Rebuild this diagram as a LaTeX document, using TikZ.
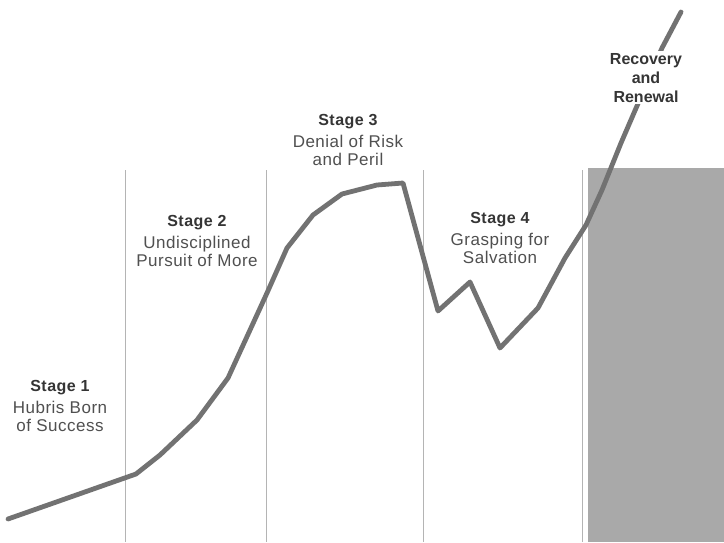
\documentclass[tikz,border=0pt]{standalone}
\usepackage{fontspec}
\setmainfont{Liberation Sans}
\newfontfamily\bodyfont[LetterSpace=3]{Liberation Sans}
\definecolor{curvegray}{HTML}{727272}
\definecolor{rulegray}{HTML}{B4B4B4}
\definecolor{boxgray}{HTML}{A9A9A9}
\definecolor{textgray}{HTML}{505050}
\definecolor{headgray}{HTML}{353535}
\newcommand{\stagehead}[1]{{\fontsize{16}{17}\selectfont\bfseries\color{headgray}#1}}
\begin{document}
\begin{tikzpicture}[x=1pt,y=-1pt,
  divider/.style={draw=rulegray,line width=0.9pt},
  trend/.style={draw=curvegray,line width=4.8pt,line join=round,line cap=round},
  stagelabel/.style={anchor=north,inner sep=0pt,align=center,text=textgray,
    font=\bodyfont\fontsize{17}{17.5}\selectfont}]
\useasboundingbox (0,0) rectangle (724,542);
\fill[white] (0,0) rectangle (724,542);
% gray box
\fill[boxgray] (588,168) rectangle (724,542);
% dividers
\foreach \xx/\nm in {125/d1,266/d2,423/d3,582/d4}{
  \coordinate (\nm t) at (\xx,170);
  \coordinate (\nm b) at (\xx,542);
  \draw[divider] (\nm t) -- (\nm b);
}
% trend line
\coordinate (p0) at (8,519);
\coordinate (p1) at (136,474);
\coordinate (p2) at (160,455);
\coordinate (p3) at (197,420);
\coordinate (p4) at (228,378);
\coordinate (p5) at (267,293);
\coordinate (p6) at (287,248);
\coordinate (p7) at (313,215);
\coordinate (p8) at (342,194);
\coordinate (p9) at (377,185);
\coordinate (p10) at (403,183);
\coordinate (p11) at (438,311);
\coordinate (p12) at (470,282);
\coordinate (p13) at (500,348);
\coordinate (p14) at (538,308);
\coordinate (p15) at (565,258);
\coordinate (p16) at (586,225);
\coordinate (p17) at (602,190);
\coordinate (p18) at (621,143);
\coordinate (p19) at (662,48);
\coordinate (p20) at (681,12);
\draw[trend] (p0) -- (p1) -- (p2) -- (p3) -- (p4) -- (p5) -- (p6) -- (p7) -- (p8)
  -- (p9) -- (p10) -- (p11) -- (p12) -- (p13) -- (p14) -- (p15) -- (p16) -- (p17)
  -- (p18) -- (p19) -- (p20);
% labels
\node[stagelabel] (s1) at (60,380) {\stagehead{Stage 1}\\[5pt]Hubris Born\\of Success};
\node[stagelabel] (s2) at (197,215) {\stagehead{Stage 2}\\[5pt]Undisciplined\\Pursuit of More};
\node[stagelabel] (s3) at (348,114) {\stagehead{Stage 3}\\[5pt]Denial of Risk\\and Peril};
\node[stagelabel] (s4) at (500,212) {\stagehead{Stage 4}\\[5pt]Grasping for\\Salvation};
\node[stagelabel,fill=white,inner sep=2pt,text=headgray,font=\fontsize{16}{19}\selectfont\bfseries] (s5) at (646,51) {Recovery\\and\\Renewal};
\end{tikzpicture}
\end{document}
